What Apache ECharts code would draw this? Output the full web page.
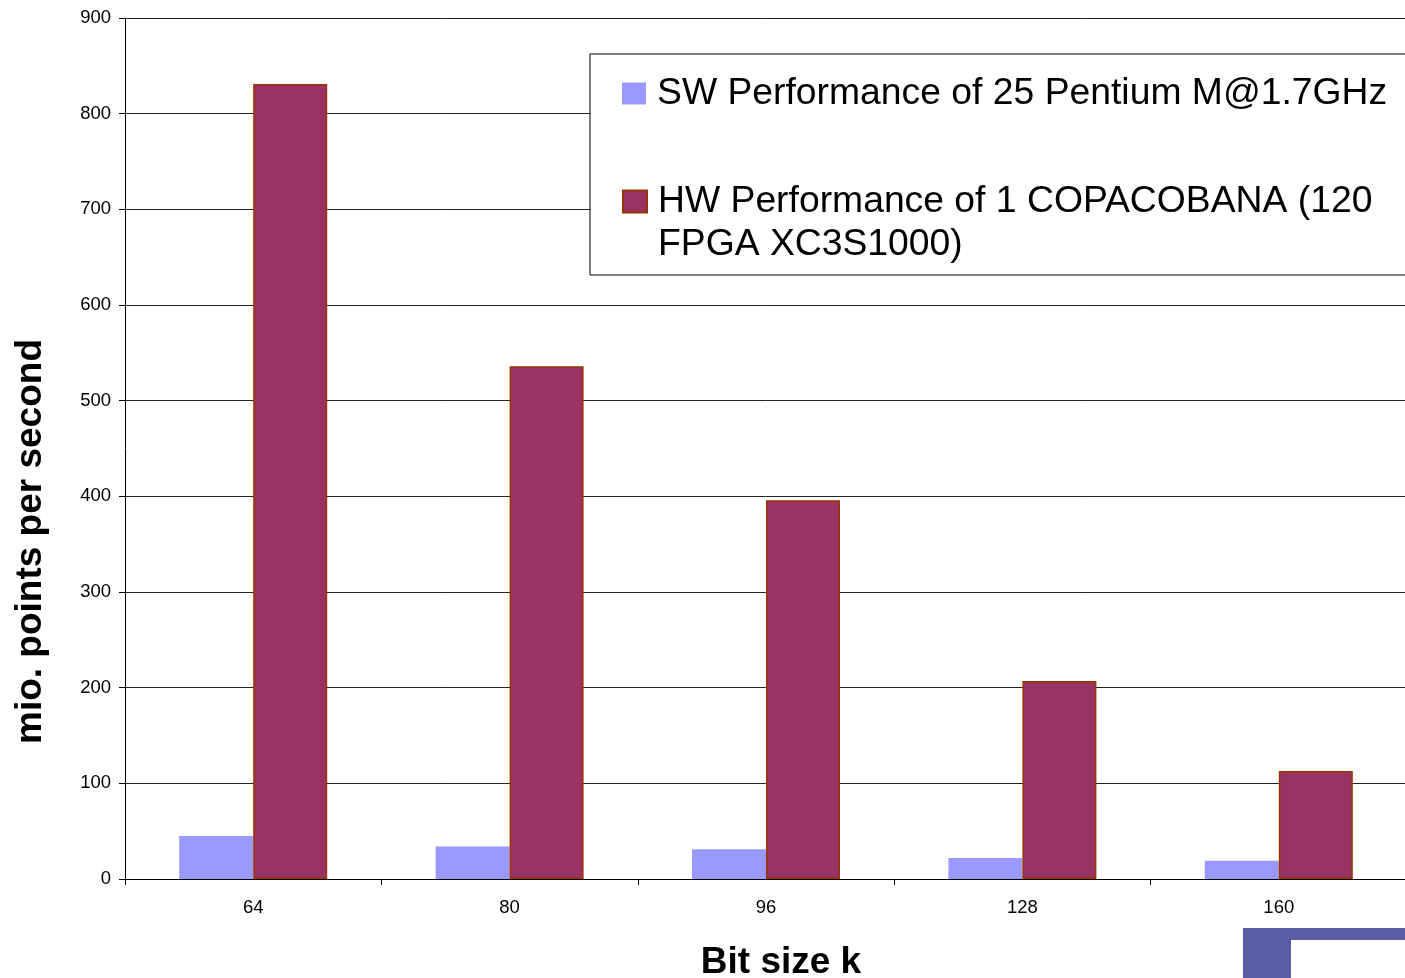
<!DOCTYPE html>
<html><head><meta charset="utf-8">
<script src="https://cdn.jsdelivr.net/npm/echarts@6/dist/echarts.min.js"></script>
<style>html,body{margin:0;padding:0;background:#fff}#c{width:1405px;height:978px}</style>
</head><body><div id="c"></div>
<script>
const categories = ['64', '80', '96', '128', '160'];
const swValues = [45, 34, 31, 22, 19];
const hwValues = [831, 536, 396, 207, 113];
const seriesNames = ['SW Performance of 25 Pentium M@1.7GHz', 'HW Performance of 1 COPACOBANA (120\nFPGA XC3S1000)'];
const yTicks = { min: 0, max: 900, interval: 100 };

const chart = echarts.init(document.getElementById('c'));
const font = 'Liberation Sans, Arial, sans-serif';
const legendText = { fontSize: 37.3, fontFamily: font, color: '#000', lineHeight: 43, rich: { g: { width: 6, lineHeight: 43 } } };
function gapLines(name) { return name.split('\n').map(function (l) { return '{g|}' + l; }).join('\n'); }
chart.setOption({
  animation: false,
  backgroundColor: '#fff',
  grid: { left: 125, right: -2, top: 18, bottom: 99, containLabel: false, outerBoundsMode: 'none' },
  xAxis: {
    type: 'category', data: categories,
    axisLine: { lineStyle: { color: '#000', width: 1 } },
    axisTick: { show: true, length: 6, lineStyle: { color: '#000' } },
    axisLabel: { color: '#000', fontSize: 18.5, fontFamily: font, margin: 19 },
    name: 'Bit size k', nameLocation: 'middle', nameGap: 65,
    nameTextStyle: { color: '#000', fontSize: 37, fontWeight: 'bold', fontFamily: font, padding: [0, 0, 0, 30] }
  },
  yAxis: {
    type: 'value', min: yTicks.min, max: yTicks.max, interval: yTicks.interval,
    axisLine: { show: true, lineStyle: { color: '#000', width: 1 } },
    axisTick: { show: true, length: 6, inside: false, lineStyle: { color: '#000' } },
    axisLabel: { color: '#000', fontSize: 18.5, fontFamily: font, margin: 14 },
    splitLine: { lineStyle: { color: '#222', width: 1 } },
    name: 'mio. points per second', nameLocation: 'middle', nameGap: 76,
    nameTextStyle: { color: '#000', fontSize: 37, fontWeight: 'bold', fontFamily: font, padding: [0, 186, 0, 0] }
  },
  legend: [{
    data: [seriesNames[0]], left: 617, top: 67, orient: 'vertical', z: 10,
    itemWidth: 24, itemHeight: 22, itemGap: 0, icon: 'rect',
    formatter: function (name) { return gapLines(name); },
    textStyle: legendText
  }, {
    data: [seriesNames[1]], left: 617, top: 132, orient: 'vertical', z: 10,
    itemWidth: 24, itemHeight: 22, itemGap: 0, icon: 'rect',
    formatter: function (name) { return '\n' + gapLines(name); },
    textStyle: legendText
  }],
  graphic: [
    { type: 'rect', z: 5, shape: { x: 590, y: 54, width: 830, height: 221 },
      style: { fill: '#fff', stroke: '#000', lineWidth: 1 } },
    { type: 'rect', shape: { x: 1243, y: 928, width: 48, height: 50 }, style: { fill: '#5a5ca6' } },
    { type: 'rect', shape: { x: 1290, y: 928, width: 115, height: 12 }, style: { fill: '#5a5ca6' } }
  ],
  series: [{
    name: seriesNames[0], type: 'bar', data: swValues,
    barWidth: 74, barGap: '0%',
    itemStyle: { color: '#9999ff' }
  }, {
    name: seriesNames[1], type: 'bar', data: hwValues,
    barWidth: 74, barGap: '0%',
    itemStyle: { color: '#993366', borderColor: '#993300', borderWidth: 1.5 }
  }]
});
</script></body></html>
